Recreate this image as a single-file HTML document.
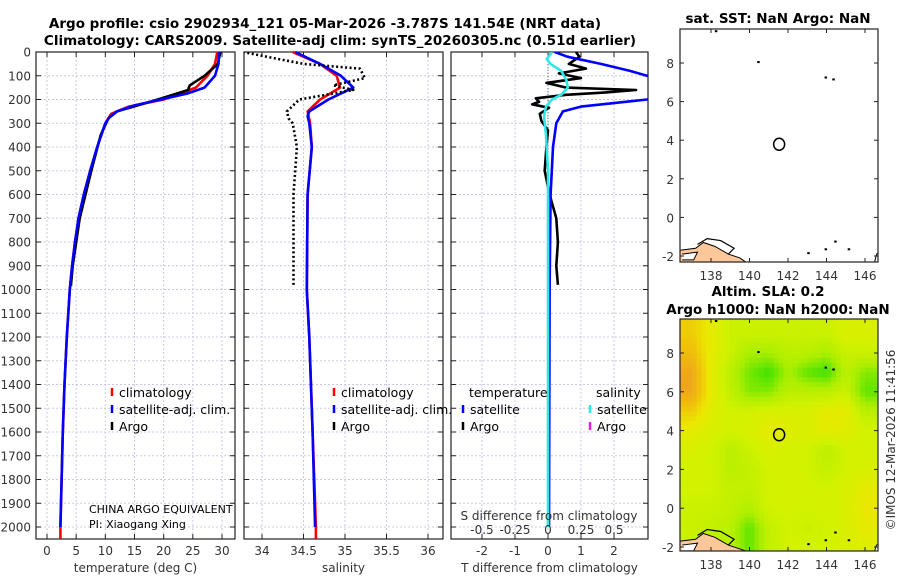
<!DOCTYPE html>
<html><head><meta charset="utf-8">
<style>
body{margin:0;background:#fff;}
svg{display:block;font-family:"DejaVu Sans","Liberation Sans",sans-serif;}
.t{font-size:12px;fill:#333;}
.b{font-weight:bold;font-size:13.5px;fill:#000;font-family:"DejaVu Sans","Liberation Sans",sans-serif;}
.lg{font-size:12.5px;fill:#000;}
</style></head>
<body>
<svg id="fig" width="900" height="580" viewBox="0 0 900 580">
<text class="b" x="325" y="28" text-anchor="middle">Argo profile: csio 2902934_121 05-Mar-2026 -3.787S 141.54E (NRT data)</text>
<text class="b" x="340" y="45" text-anchor="middle">Climatology: CARS2009. Satellite-adj clim: synTS_20260305.nc (0.51d earlier)</text>
<text class="b" x="778" y="23" text-anchor="middle">sat. SST: NaN Argo: NaN</text>
<text class="b" x="768" y="296" text-anchor="middle">Altim. SLA: 0.2</text>
<text class="b" x="778" y="314" text-anchor="middle">Argo h1000: NaN h2000: NaN</text>
<text class="t" transform="translate(895,440) rotate(-90)" text-anchor="middle">©IMOS 12-Mar-2026 11:41:56</text>
<g id="g"></g>
</svg>
<script>
// ---- data ----
const depthTicks = [0,100,200,300,400,500,600,700,800,900,1000,1100,1200,1300,1400,1500,1600,1700,1800,1900,2000];
const tempTicks = [0,5,10,15,20,25,30];
const salTicks = [34,34.5,35,35.5,36];
const salTickLabels = ["34","34.5","35","35.5","36"];
const diffTicks = [-2,-1,0,1,2];
const sdiffTicks = [-0.5,-0.25,0,0.25,0.5];
const sdiffLabels = ["-0.5","-0.25","0","0.25","0.5"];

const climDepth = [0,50,100,150,200,230,260,300,350,400,500,600,700,800,900,1000,1200,1400,1600,1800,2000,2050];
const climTemp  = [29.2,28.8,27.5,25.5,20,14,11,10,9.3,8.6,7.4,6.3,5.4,4.8,4.3,3.9,3.4,3.0,2.7,2.5,2.3,2.3];
const satDepth  = [0,50,100,150,175,200,225,250,275,300,350,400,500,600,700,800,900,1000,1200,1400,1600,1800,2000];
const satTemp   = [29.5,29.4,28.8,27,24,19.5,15,12,10.7,10,9.3,8.6,7.4,6.3,5.4,4.8,4.3,3.9,3.4,3.0,2.7,2.5,2.3];
const argoDepth = [0,50,100,140,150,160,200,250,280,350,500,700,900,985];
const argoTemp  = [29.7,29.3,27,24.5,24.3,24.2,19,12,10.5,9.2,7.6,5.6,4.4,4.1];

const climSalDepth = [0,50,100,150,200,250,300,400,600,1000,1200,1600,2000,2050];
const climSal = [34.37,34.7,34.9,34.94,34.7,34.55,34.58,34.6,34.55,34.54,34.57,34.61,34.65,34.65];
const satSalDepth = [0,50,100,150,200,250,270,300,400,600,1000,1200,1600,2000];
const satSal = [34.4,34.7,34.95,35.1,34.8,34.57,34.55,34.57,34.6,34.55,34.54,34.57,34.61,34.64];
const argoSalDepth = [0,20,50,70,110,140,160,200,250,280,300,400,600,900,985];
const argoSal = [33.77,34.06,34.5,35.18,35.24,34.86,35.1,34.45,34.3,34.32,34.37,34.42,34.38,34.38,34.38];

const satTdiffDepth = [0,20,50,80,100,120,190,200,215,230,250,300,400,600,1000,2000];
const satTdiff = [0.2,0.6,1.6,2.5,3.0,3.5,3.5,3.0,2.0,1.0,0.45,0.25,0.15,0.08,0.05,0.03];
const argoTdiffDepth = [0,20,50,70,90,110,130,150,160,170,180,195,210,220,235,260,290,330,400,500,600,700,800,900,980];
const argoTdiff = [0.85,0.95,0.63,1.15,0.33,1.0,-0.05,0.55,2.67,1.75,0.55,-0.37,-0.27,-0.48,0.03,-0.25,-0.2,0,-0.05,-0.1,0.05,0.25,0.3,0.25,0.3];
const satSdiffDepth = [0,30,50,80,120,150,180,200,230,270,350,500,1000,2000];
const satSdiff = [0.03,-0.01,0.02,0.1,0.14,0.15,0.1,0.03,-0.015,-0.03,-0.015,0,0,0];

const lonTicks = [138,140,142,144,146];
const latTicks = [-2,0,2,4,6,8];
const argoLon = [141.54];
const argoLat = [3.787];
const slaLons = [137,138,139,140,141,142,143,144,145,146];
const slaLats = [9,8,7,6,5,4,3,2,1,0,-1,-2];
const slaGrid = [
[1.1,0.9,0.7,0.7,0.7,0.7,0.7,0.7,0.8,0.8],
[1.2,0.9,0.7,0.5,0.5,0.6,0.6,0.5,0.7,0.7],
[1.35,0.9,0.6,0.35,0.2,0.5,0.3,0.2,0.6,0.4],
[1.35,0.9,0.65,0.4,0.4,0.6,0.6,0.6,0.7,0.3],
[1.1,0.85,0.75,0.75,0.8,0.8,0.8,0.9,0.9,0.6],
[0.9,0.8,0.75,0.8,0.9,0.85,0.8,0.9,0.85,0.75],
[0.8,0.75,0.6,0.7,0.8,0.75,0.75,0.6,0.75,0.75],
[0.75,0.75,0.6,0.65,0.75,0.75,0.75,0.65,0.75,0.8],
[0.75,0.75,0.65,0.65,0.75,0.75,0.75,0.75,0.8,0.9],
[0.7,0.7,0.65,0.55,0.75,0.75,0.75,0.75,0.8,0.95],
[0.7,0.65,0.6,0.3,0.65,0.75,0.7,0.75,0.8,0.9],
[0.7,0.6,0.6,0.3,0.65,0.75,0.75,0.75,0.8,0.85]];

// ---- helpers ----
const NS="http://www.w3.org/2000/svg";
const G=document.getElementById('g');
function mk(tag,a,parent){const e=document.createElementNS(NS,tag);for(const k in a)e.setAttribute(k,a[k]);(parent||G).appendChild(e);return e;}
function lin(d0,d1,r0,r1){return v=>r0+(v-d0)*(r1-r0)/(d1-d0);}
const Y0=52, Y1=539;
const yD=lin(0,2000,52,527);

const panels=[
 {name:'temperature',x0:36,x1:235,sx:lin(0,30,47,222),ticks:tempTicks,labels:tempTicks.map(String),title:'temperature (deg C)',ylab:true},
 {name:'salinity',x0:244,x1:443,sx:lin(34,36,262,428),ticks:salTicks,labels:salTickLabels,title:'salinity'},
 {name:'difference',x0:451,x1:648,sx:lin(0,2,548,614),ticks:diffTicks,labels:diffTicks.map(String),title:'T difference from climatology'}
];
panels.forEach(p=>{
  const grid=mk('g',{});
  
  
  depthTicks.forEach(d=>{mk('line',{x1:p.x0,x2:p.x1,y1:yD(d),y2:yD(d),stroke:'#c9c9e6','stroke-width':1,'stroke-dasharray':'2,2'},grid);});
  p.ticks.forEach(t=>{mk('line',{x1:p.sx(t),x2:p.sx(t),y1:Y0,y2:Y1,stroke:'#c9c9e6','stroke-width':1,'stroke-dasharray':'2,2'},grid);});
  const ax=mk('g',{});
  
  
  mk('rect',{x:p.x0,y:Y0,width:p.x1-p.x0,height:Y1-Y0,fill:'none',stroke:'#222','stroke-width':1.2},ax);
  depthTicks.forEach(d=>{
    mk('line',{x1:p.x0,x2:p.x0+5,y1:yD(d),y2:yD(d),stroke:'#222'},ax);
    mk('line',{x1:p.x1-5,x2:p.x1,y1:yD(d),y2:yD(d),stroke:'#222'},ax);
    if(p.ylab){const t=mk('text',{x:31,y:yD(d)+4.5,'text-anchor':'end',class:'t'},ax);t.textContent=d;}
  });
  p.ticks.forEach((t,i)=>{
    mk('line',{x1:p.sx(t),x2:p.sx(t),y1:Y1-5,y2:Y1,stroke:'#222'},ax);
    mk('line',{x1:p.sx(t),x2:p.sx(t),y1:Y0,y2:Y0+5,stroke:'#222'},ax);
    const tx=mk('text',{x:p.sx(t),y:555,'text-anchor':'middle',class:'t'},ax);tx.textContent=p.labels[i];
  });
  const tt=mk('text',{x:(p.x0+p.x1)/2,y:572,'text-anchor':'middle',class:'t'});
  tt.textContent=p.title;
  
  
});
function line(xs,ds,sx,color,name,dash){
  const pts=xs.map((v,i)=>sx(v).toFixed(1)+','+yD(ds[i]).toFixed(1)).join(' ');
  const a={points:pts,fill:'none',stroke:color,'stroke-width':2.6,'stroke-linejoin':'round'};
  if(dash)a['stroke-dasharray']=dash;
  const e=mk('polyline',a);
  
  
  return e;
}
const defs=mk('defs',{});
const cp=mk('clipPath',{id:'c3'},defs);
mk('rect',{x:451,y:Y0,width:197,height:Y1-Y0},cp);
const cp2=mk('clipPath',{id:'c2'},defs);
mk('rect',{x:244,y:Y0,width:199,height:Y1-Y0},cp2);

const P1=panels[0].sx, P2=panels[1].sx, P3=panels[2].sx;
line(climTemp,climDepth,P1,'#f00','temp-climatology-line');
line(argoTemp,argoDepth,P1,'#000','temp-argo-line');
line(satTemp,satDepth,P1,'#00f','temp-satellite-line');
line(climSal,climSalDepth,P2,'#f00','sal-climatology-line');
line(satSal,satSalDepth,P2,'#00f','sal-satellite-line');
line(argoSal,argoSalDepth,P2,'#000','sal-argo-line','2,2.5').setAttribute('clip-path','url(#c2)');
const z=mk('line',{x1:P3(0),x2:P3(0),y1:Y0,y2:yD(1000),stroke:'#666','stroke-dasharray':'1,2'});


line(argoTdiff,argoTdiffDepth,P3,'#000','tdiff-argo-line').setAttribute('clip-path','url(#c3)');
line(satTdiff,satTdiffDepth,P3,'#00f','tdiff-satellite-line').setAttribute('clip-path','url(#c3)');
const SX=v=>P3(v*4);
line(satSdiff,satSdiffDepth,SX,'#2ee8e8','sdiff-satellite-line').setAttribute('clip-path','url(#c3)');

const sl=mk('text',{x:549,y:520,'text-anchor':'middle',class:'t'});
sl.textContent='S difference from climatology';


sdiffTicks.forEach((s,i)=>{const t=mk('text',{x:SX(s),y:534,'text-anchor':'middle',class:'t'});t.textContent=sdiffLabels[i];

});

function leg(x,y,color,label,name){
  const g=mk('g',{});
  
  
  mk('line',{x1:x,x2:x,y1:y-9,y2:y-1,stroke:color,'stroke-width':2.5},g);
  if(label){const t=mk('text',{x:x+7,y:y,class:'lg'},g);t.textContent=label;}
}
leg(112,397,'#f00','climatology','legend-temp-climatology');
leg(112,414,'#00f','satellite-adj. clim.','legend-temp-satellite');
leg(112,431,'#000','Argo','legend-temp-argo');
leg(334,397,'#f00','climatology','legend-sal-climatology');
leg(334,414,'#00f','satellite-adj. clim.','legend-sal-satellite');
leg(334,431,'#000','Argo','legend-sal-argo');
const lt=mk('text',{x:469,y:397,class:'lg'});lt.textContent='temperature';


const ls=mk('text',{x:596,y:397,class:'lg'});ls.textContent='salinity';


leg(463,414,'#00f','satellite','legend-tdiff-satellite');
leg(463,431,'#000','Argo','legend-tdiff-argo');
leg(590,414,'#2ee8e8','satellite','legend-sdiff-satellite');
leg(590,431,'#e020e0','Argo','legend-sdiff-argo');
const c1=mk('text',{x:89,y:513,style:'font-size:11px'});c1.textContent='CHINA ARGO EQUIVALENT';


const c2=mk('text',{x:89,y:528,style:'font-size:11px'});c2.textContent='PI: Xiaogang Xing';



// ---- maps ----
function slaColor(v){
  const stops=[[0.2,[60,225,0]],[0.5,[170,238,0]],[0.75,[210,242,0]],[0.95,[235,232,0]],[1.15,[240,195,10]],[1.4,[238,160,30]]];
  v=Math.max(0.2,Math.min(1.4,v));
  for(let i=1;i<stops.length;i++){if(v<=stops[i][0]){const [a,ca]=stops[i-1],[b,cb]=stops[i];const f=(v-a)/(b-a);
    return 'rgb('+ca.map((c,k)=>Math.round(c+(cb[k]-c)*f)).join(',')+')';}}
}
function sample(lo,la){
  const nc=slaLons.length, nr=slaLats.length;
  let fc=Math.max(0,Math.min(nc-1,lo-slaLons[0]));
  let fr=Math.max(0,Math.min(nr-1,slaLats[0]-la));
  const c0=Math.min(nc-2,Math.floor(fc)), r0=Math.min(nr-2,Math.floor(fr));
  const tx=fc-c0, ty=fr-r0;
  const a=slaGrid[r0][c0],b=slaGrid[r0][c0+1],c=slaGrid[r0+1][c0],d=slaGrid[r0+1][c0+1];
  return (a*(1-tx)+b*tx)*(1-ty)+(c*(1-tx)+d*tx)*ty;
}
function map(name,x0,x1,y0,y1,lx,ly,heat){
  const g=mk('g',{});
  
  
  const cid='clip-'+name;
  const c=mk('clipPath',{id:cid},defs);
  mk('rect',{x:x0,y:y0,width:x1-x0,height:y1-y0},c);
  const inner=mk('g',{'clip-path':'url(#'+cid+')'},g);
  mk('rect',{x:x0,y:y0,width:x1-x0,height:y1-y0,fill:'#fff'},inner);
  if(heat){
    const step=0.25;
    for(let lo=136.25;lo<147;lo+=step){
      for(let la=10.25;la>-2.6;la-=step){
        const cell=mk('rect',{x:lx(lo).toFixed(1),y:ly(la).toFixed(1),width:(lx(lo+step)-lx(lo)+0.6).toFixed(1),height:(ly(la-step)-ly(la)+0.6).toFixed(1),fill:slaColor(sample(lo+step/2,la-step/2))},inner);
        
        
      }
    }
  }
  const land=mk('path',{d:`M${x0},${y1} L${x0},${ly(-1.7)} L${lx(137.2)},${ly(-1.6)} L${lx(137.6)},${ly(-1.3)} L${lx(138.2)},${ly(-1.5)} L${lx(138.9)},${ly(-1.9)} L${lx(139.5)},${ly(-2.1)} L${lx(139.8)},${y1} Z`,fill:'#fcc89a',stroke:'#000','stroke-width':1},inner);
  
  
  mk('path',{d:`M${lx(136.5)},${ly(-1.9)} L${lx(137.3)},${ly(-1.8)} L${lx(137.1)},${ly(-2.2)} L${lx(136.5)},${ly(-2.2)}`,fill:'#fff',stroke:'#000','stroke-width':1},inner);
  mk('path',{d:`M${lx(137.3)},${ly(-1.4)} L${lx(137.8)},${ly(-1.1)} L${lx(138.5)},${ly(-1.2)} L${lx(139.2)},${ly(-1.6)} L${lx(138.9)},${ly(-1.9)}`,fill:'none',stroke:'#000','stroke-width':1.2},inner);
  mk('path',{d:`M${lx(146.5)},${y1} L${lx(146.6)},${ly(-1.9)} L${lx(146.8)},${ly(-1.8)} L${lx(146.8)},${y1}`,fill:'#fff',stroke:'#000'},inner);
  [[138.2,9.7],[140.4,8.1],[143.9,7.3],[144.3,7.2],[143,-1.8],[143.9,-1.6],[144.4,-1.2],[145.1,-1.6]].forEach(p=>{
    mk('rect',{x:lx(p[0]),y:ly(p[1]),width:2.5,height:2,fill:'#000'},inner);});
  argoLon.forEach((lo,i)=>{
    const m=mk('ellipse',{cx:lx(lo),cy:ly(argoLat[i]),rx:5.5,ry:6,fill:'none',stroke:'#000','stroke-width':1.5},g);
    
    
  });
  mk('rect',{x:x0,y:y0,width:x1-x0,height:y1-y0,fill:'none',stroke:'#222','stroke-width':1.2},g);
  lonTicks.forEach(t=>{
    mk('line',{x1:lx(t),x2:lx(t),y1:y1-4,y2:y1,stroke:'#222'},g);
    mk('line',{x1:lx(t),x2:lx(t),y1:y0,y2:y0+4,stroke:'#222'},g);
    const tx=mk('text',{x:lx(t),y:y1+18,'text-anchor':'middle',class:'t'},g);tx.textContent=t;
  });
  latTicks.forEach(t=>{
    mk('line',{x1:x0,x2:x0+4,y1:ly(t),y2:ly(t),stroke:'#222'},g);
    mk('line',{x1:x1-4,x2:x1,y1:ly(t),y2:ly(t),stroke:'#222'},g);
    const tx=mk('text',{x:x0-6,y:ly(t)+5,'text-anchor':'end',class:'t'},g);tx.textContent=t;
  });
}
map('sst-map',680,878,29,262,lin(138,146,711,865),lin(8,-2,63,256),false);
map('sla-map',680,878,319,551,lin(138,146,711,865),lin(8,-2,353,547),true);
</script>
</body></html>
